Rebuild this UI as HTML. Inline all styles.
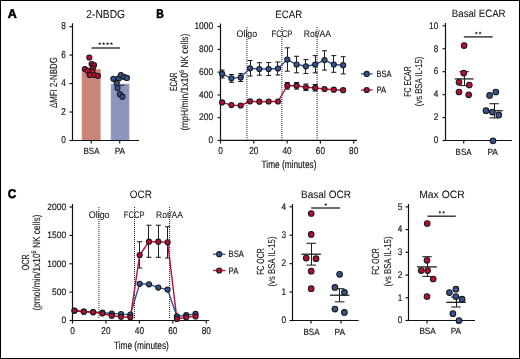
<!DOCTYPE html>
<html><head><meta charset="utf-8"><style>
html,body{margin:0;padding:0;background:#fff;}
svg{display:block;font-family:"Liberation Sans", sans-serif;will-change:transform;text-rendering:geometricPrecision;}
text{stroke:#151515;stroke-width:0.16px;fill:#151515;}
text.t{stroke-width:0.05px;fill:#111;stroke:#111;}
text.r{stroke-width:0.1px;}
text.L{stroke-width:0.55px;fill:#000;stroke:#000;}
</style></head><body>
<svg width="520" height="359" viewBox="0 0 520 359">
<rect x="0.5" y="0.5" width="519" height="358" fill="#fff" stroke="#000" stroke-width="1"/>
<text class="L" x="7.8" y="17.6" font-size="12.6" text-anchor="start" font-weight="bold" fill="#000" textLength="9.0" lengthAdjust="spacingAndGlyphs">A</text>
<text class="t" x="86.3" y="18.0" font-size="11.6" text-anchor="start" font-weight="normal" fill="#222" textLength="38.8" lengthAdjust="spacingAndGlyphs">2-NBDG</text>
<rect x="82.0" y="69.4" width="18.3" height="71.1" fill="#c98577" stroke="#d99a8c" stroke-width="0.6"/>
<rect x="111.0" y="84.0" width="18.1" height="56.5" fill="#8c95bf" stroke="#a2aad0" stroke-width="0.6"/>
<line x1="72.5" y1="23.3" x2="72.5" y2="141.1" stroke="#111" stroke-width="1.2"/>
<line x1="69.5" y1="140.5" x2="72.5" y2="140.5" stroke="#111" stroke-width="1.15"/>
<text x="65.9" y="143.3" font-size="9.9" text-anchor="end" font-weight="normal" fill="#222" textLength="4.6" lengthAdjust="spacingAndGlyphs">0</text>
<line x1="69.5" y1="112.03999999999999" x2="72.5" y2="112.03999999999999" stroke="#111" stroke-width="1.15"/>
<text x="65.9" y="114.83999999999999" font-size="9.9" text-anchor="end" font-weight="normal" fill="#222" textLength="4.6" lengthAdjust="spacingAndGlyphs">2</text>
<line x1="69.5" y1="83.58" x2="72.5" y2="83.58" stroke="#111" stroke-width="1.15"/>
<text x="65.9" y="86.38" font-size="9.9" text-anchor="end" font-weight="normal" fill="#222" textLength="4.6" lengthAdjust="spacingAndGlyphs">4</text>
<line x1="69.5" y1="55.120000000000005" x2="72.5" y2="55.120000000000005" stroke="#111" stroke-width="1.15"/>
<text x="65.9" y="57.92" font-size="9.9" text-anchor="end" font-weight="normal" fill="#222" textLength="4.6" lengthAdjust="spacingAndGlyphs">6</text>
<line x1="69.5" y1="26.659999999999997" x2="72.5" y2="26.659999999999997" stroke="#111" stroke-width="1.15"/>
<text x="65.9" y="29.459999999999997" font-size="9.9" text-anchor="end" font-weight="normal" fill="#222" textLength="4.6" lengthAdjust="spacingAndGlyphs">8</text>
<line x1="71.9" y1="140.5" x2="139.0" y2="140.5" stroke="#111" stroke-width="1.2"/>
<line x1="91.2" y1="140.5" x2="91.2" y2="143.5" stroke="#111" stroke-width="1.15"/>
<line x1="119.7" y1="140.5" x2="119.7" y2="143.5" stroke="#111" stroke-width="1.15"/>
<text x="91.5" y="154.1" font-size="9.1" text-anchor="middle" font-weight="normal" fill="#222" textLength="16.0" lengthAdjust="spacingAndGlyphs">BSA</text>
<text x="119.9" y="154.1" font-size="9.1" text-anchor="middle" font-weight="normal" fill="#222" textLength="10.5" lengthAdjust="spacingAndGlyphs">PA</text>
<text class="r" transform="translate(56.6,82.6) rotate(-90)" x="0" y="0" font-size="10.3" text-anchor="middle" fill="#222" textLength="51.0" lengthAdjust="spacingAndGlyphs">ΔMFI 2-NBDG</text>
<line x1="91.5" y1="48.0" x2="120.0" y2="48.0" stroke="#1e1e1e" stroke-width="1.3"/>
<line x1="119.2" y1="85.3" x2="124.6" y2="85.3" stroke="#222" stroke-width="1.0"/>
<line x1="88.5" y1="70.3" x2="94.5" y2="70.3" stroke="#222" stroke-width="1.0"/>
<polygon points="99.75,42.00 100.20,43.08 101.37,43.17 100.48,43.94 100.75,45.08 99.75,44.47 98.75,45.08 99.02,43.94 98.13,43.17 99.30,43.08" fill="#222"/>
<polygon points="103.65,42.00 104.10,43.08 105.27,43.17 104.38,43.94 104.65,45.08 103.65,44.47 102.65,45.08 102.92,43.94 102.03,43.17 103.20,43.08" fill="#222"/>
<polygon points="107.55,42.00 108.00,43.08 109.17,43.17 108.28,43.94 108.55,45.08 107.55,44.47 106.55,45.08 106.82,43.94 105.93,43.17 107.10,43.08" fill="#222"/>
<polygon points="111.45,42.00 111.90,43.08 113.07,43.17 112.18,43.94 112.45,45.08 111.45,44.47 110.45,45.08 110.72,43.94 109.83,43.17 111.00,43.08" fill="#222"/>
<circle cx="89.3" cy="57.5" r="2.55" fill="#b90a36" stroke="#1b1b1b" stroke-width="1.1"/>
<circle cx="91.6" cy="64.1" r="2.55" fill="#b90a36" stroke="#1b1b1b" stroke-width="1.1"/>
<circle cx="94" cy="65.2" r="2.55" fill="#b90a36" stroke="#1b1b1b" stroke-width="1.1"/>
<circle cx="92.8" cy="68.4" r="2.55" fill="#b90a36" stroke="#1b1b1b" stroke-width="1.1"/>
<circle cx="84.9" cy="69" r="2.55" fill="#b90a36" stroke="#1b1b1b" stroke-width="1.1"/>
<circle cx="87.7" cy="70.7" r="2.55" fill="#b90a36" stroke="#1b1b1b" stroke-width="1.1"/>
<circle cx="92.4" cy="71.5" r="2.55" fill="#b90a36" stroke="#1b1b1b" stroke-width="1.1"/>
<circle cx="89.7" cy="75" r="2.55" fill="#b90a36" stroke="#1b1b1b" stroke-width="1.1"/>
<circle cx="94.4" cy="75" r="2.55" fill="#b90a36" stroke="#1b1b1b" stroke-width="1.1"/>
<circle cx="97.9" cy="75.8" r="2.55" fill="#b90a36" stroke="#1b1b1b" stroke-width="1.1"/>
<circle cx="113.4" cy="78.8" r="2.55" fill="#345593" stroke="#1b1b1b" stroke-width="1.1"/>
<circle cx="118.8" cy="78.4" r="2.55" fill="#345593" stroke="#1b1b1b" stroke-width="1.1"/>
<circle cx="120.9" cy="75" r="2.55" fill="#345593" stroke="#1b1b1b" stroke-width="1.1"/>
<circle cx="124.2" cy="77.1" r="2.55" fill="#345593" stroke="#1b1b1b" stroke-width="1.1"/>
<circle cx="126.9" cy="77.9" r="2.55" fill="#345593" stroke="#1b1b1b" stroke-width="1.1"/>
<circle cx="116.7" cy="83.2" r="2.55" fill="#345593" stroke="#1b1b1b" stroke-width="1.1"/>
<circle cx="117.5" cy="88" r="2.55" fill="#345593" stroke="#1b1b1b" stroke-width="1.1"/>
<circle cx="119.9" cy="94.2" r="2.55" fill="#345593" stroke="#1b1b1b" stroke-width="1.1"/>
<circle cx="122.4" cy="96.7" r="2.55" fill="#345593" stroke="#1b1b1b" stroke-width="1.1"/>
<text class="L" x="156.3" y="17.6" font-size="12.6" text-anchor="start" font-weight="bold" fill="#000" textLength="7.6" lengthAdjust="spacingAndGlyphs">B</text>
<text class="t" x="275.3" y="18.0" font-size="10.8" text-anchor="start" font-weight="normal" fill="#222" textLength="26.8" lengthAdjust="spacingAndGlyphs">ECAR</text>
<line x1="246.9" y1="27.0" x2="246.9" y2="139.5" stroke="#222" stroke-width="1.0" stroke-dasharray="1 1"/>
<line x1="281.9" y1="27.0" x2="281.9" y2="139.5" stroke="#222" stroke-width="1.0" stroke-dasharray="1 1"/>
<line x1="317.1" y1="27.0" x2="317.1" y2="139.5" stroke="#222" stroke-width="1.0" stroke-dasharray="1 1"/>
<text class="t" x="236.6" y="37.2" font-size="9.6" text-anchor="start" font-weight="normal" fill="#222" textLength="20.6" lengthAdjust="spacingAndGlyphs">Oligo</text>
<text class="t" x="271.5" y="37.2" font-size="9.6" text-anchor="start" font-weight="normal" fill="#222" textLength="21.0" lengthAdjust="spacingAndGlyphs">FCCP</text>
<text class="t" x="303.8" y="37.2" font-size="9.6" text-anchor="start" font-weight="normal" fill="#222" textLength="27.3" lengthAdjust="spacingAndGlyphs">Rot/AA</text>
<line x1="220.5" y1="23.5" x2="220.5" y2="141.04999999999998" stroke="#111" stroke-width="1.2"/>
<line x1="217.5" y1="140.45" x2="220.5" y2="140.45" stroke="#111" stroke-width="1.15"/>
<text x="213.2" y="143.25" font-size="9.6" text-anchor="end" font-weight="normal" fill="#222" textLength="4.7" lengthAdjust="spacingAndGlyphs">0</text>
<line x1="217.5" y1="117.67999999999999" x2="220.5" y2="117.67999999999999" stroke="#111" stroke-width="1.15"/>
<text x="213.2" y="120.47999999999999" font-size="9.6" text-anchor="end" font-weight="normal" fill="#222" textLength="14.100000000000001" lengthAdjust="spacingAndGlyphs">200</text>
<line x1="217.5" y1="94.91" x2="220.5" y2="94.91" stroke="#111" stroke-width="1.15"/>
<text x="213.2" y="97.71" font-size="9.6" text-anchor="end" font-weight="normal" fill="#222" textLength="14.100000000000001" lengthAdjust="spacingAndGlyphs">400</text>
<line x1="217.5" y1="72.13999999999999" x2="220.5" y2="72.13999999999999" stroke="#111" stroke-width="1.15"/>
<text x="213.2" y="74.93999999999998" font-size="9.6" text-anchor="end" font-weight="normal" fill="#222" textLength="14.100000000000001" lengthAdjust="spacingAndGlyphs">600</text>
<line x1="217.5" y1="49.36999999999999" x2="220.5" y2="49.36999999999999" stroke="#111" stroke-width="1.15"/>
<text x="213.2" y="52.16999999999999" font-size="9.6" text-anchor="end" font-weight="normal" fill="#222" textLength="14.100000000000001" lengthAdjust="spacingAndGlyphs">800</text>
<line x1="217.5" y1="26.599999999999994" x2="220.5" y2="26.599999999999994" stroke="#111" stroke-width="1.15"/>
<text x="213.2" y="29.399999999999995" font-size="9.6" text-anchor="end" font-weight="normal" fill="#222" textLength="18.8" lengthAdjust="spacingAndGlyphs">1000</text>
<line x1="219.9" y1="140.45" x2="357.0" y2="140.45" stroke="#111" stroke-width="1.2"/>
<line x1="220.5" y1="140.45" x2="220.5" y2="143.45" stroke="#111" stroke-width="1.15"/>
<line x1="253.8" y1="140.45" x2="253.8" y2="143.45" stroke="#111" stroke-width="1.15"/>
<line x1="287.1" y1="140.45" x2="287.1" y2="143.45" stroke="#111" stroke-width="1.15"/>
<line x1="320.4" y1="140.45" x2="320.4" y2="143.45" stroke="#111" stroke-width="1.15"/>
<line x1="353.7" y1="140.45" x2="353.7" y2="143.45" stroke="#111" stroke-width="1.15"/>
<text x="220.5" y="154.3" font-size="9.9" text-anchor="middle" font-weight="normal" fill="#222" textLength="4.6" lengthAdjust="spacingAndGlyphs">0</text>
<text x="253.8" y="154.3" font-size="9.9" text-anchor="middle" font-weight="normal" fill="#222" textLength="9.2" lengthAdjust="spacingAndGlyphs">20</text>
<text x="287.1" y="154.3" font-size="9.9" text-anchor="middle" font-weight="normal" fill="#222" textLength="9.2" lengthAdjust="spacingAndGlyphs">40</text>
<text x="320.4" y="154.3" font-size="9.9" text-anchor="middle" font-weight="normal" fill="#222" textLength="9.2" lengthAdjust="spacingAndGlyphs">60</text>
<text x="353.7" y="154.3" font-size="9.9" text-anchor="middle" font-weight="normal" fill="#222" textLength="9.2" lengthAdjust="spacingAndGlyphs">80</text>
<text x="261.6" y="168.1" font-size="10.6" text-anchor="start" font-weight="normal" fill="#222" textLength="54.8" lengthAdjust="spacingAndGlyphs">Time (minutes)</text>
<text class="r" transform="translate(176.7,81.7) rotate(-90)" x="0" y="0" font-size="10.3" text-anchor="middle" fill="#222" textLength="18.4" lengthAdjust="spacingAndGlyphs">ECAR</text>
<text class="r" transform="translate(188.3,82.1) rotate(-90)" x="0" y="0" font-size="10.4" text-anchor="middle" fill="#222" textLength="97.0" lengthAdjust="spacingAndGlyphs">(mpH/min/1x10<tspan dy='-4' font-size='6.8'>6</tspan><tspan dy='4'> NK cells)</tspan></text>
<line x1="222.5" y1="70" x2="222.5" y2="78" stroke="#1e1e1e" stroke-width="1.05"/>
<line x1="219.6" y1="70" x2="224.6" y2="70" stroke="#1e1e1e" stroke-width="1.05"/>
<line x1="219.6" y1="78" x2="224.6" y2="78" stroke="#1e1e1e" stroke-width="1.05"/>
<line x1="231.5" y1="74.5" x2="231.5" y2="82.3" stroke="#1e1e1e" stroke-width="1.05"/>
<line x1="228.91" y1="74.5" x2="233.91" y2="74.5" stroke="#1e1e1e" stroke-width="1.05"/>
<line x1="228.91" y1="82.3" x2="233.91" y2="82.3" stroke="#1e1e1e" stroke-width="1.05"/>
<line x1="240.5" y1="73.5" x2="240.5" y2="81.5" stroke="#1e1e1e" stroke-width="1.05"/>
<line x1="238.22" y1="73.5" x2="243.22" y2="73.5" stroke="#1e1e1e" stroke-width="1.05"/>
<line x1="238.22" y1="81.5" x2="243.22" y2="81.5" stroke="#1e1e1e" stroke-width="1.05"/>
<line x1="250.5" y1="60.5" x2="250.5" y2="76" stroke="#1e1e1e" stroke-width="1.05"/>
<line x1="247.53" y1="60.5" x2="252.53" y2="60.5" stroke="#1e1e1e" stroke-width="1.05"/>
<line x1="247.53" y1="76" x2="252.53" y2="76" stroke="#1e1e1e" stroke-width="1.05"/>
<line x1="259.5" y1="62.7" x2="259.5" y2="75.2" stroke="#1e1e1e" stroke-width="1.05"/>
<line x1="256.84" y1="62.7" x2="261.84" y2="62.7" stroke="#1e1e1e" stroke-width="1.05"/>
<line x1="256.84" y1="75.2" x2="261.84" y2="75.2" stroke="#1e1e1e" stroke-width="1.05"/>
<line x1="268.5" y1="62.5" x2="268.5" y2="75.5" stroke="#1e1e1e" stroke-width="1.05"/>
<line x1="266.15" y1="62.5" x2="271.15" y2="62.5" stroke="#1e1e1e" stroke-width="1.05"/>
<line x1="266.15" y1="75.5" x2="271.15" y2="75.5" stroke="#1e1e1e" stroke-width="1.05"/>
<line x1="277.5" y1="62" x2="277.5" y2="75" stroke="#1e1e1e" stroke-width="1.05"/>
<line x1="275.46" y1="62" x2="280.46" y2="62" stroke="#1e1e1e" stroke-width="1.05"/>
<line x1="275.46" y1="75" x2="280.46" y2="75" stroke="#1e1e1e" stroke-width="1.05"/>
<line x1="287.5" y1="47.8" x2="287.5" y2="71.2" stroke="#1e1e1e" stroke-width="1.05"/>
<line x1="284.77" y1="47.8" x2="289.77" y2="47.8" stroke="#1e1e1e" stroke-width="1.05"/>
<line x1="284.77" y1="71.2" x2="289.77" y2="71.2" stroke="#1e1e1e" stroke-width="1.05"/>
<line x1="296.5" y1="56.3" x2="296.5" y2="72.8" stroke="#1e1e1e" stroke-width="1.05"/>
<line x1="294.08" y1="56.3" x2="299.08" y2="56.3" stroke="#1e1e1e" stroke-width="1.05"/>
<line x1="294.08" y1="72.8" x2="299.08" y2="72.8" stroke="#1e1e1e" stroke-width="1.05"/>
<line x1="305.5" y1="59.6" x2="305.5" y2="73.5" stroke="#1e1e1e" stroke-width="1.05"/>
<line x1="303.39" y1="59.6" x2="308.39" y2="59.6" stroke="#1e1e1e" stroke-width="1.05"/>
<line x1="303.39" y1="73.5" x2="308.39" y2="73.5" stroke="#1e1e1e" stroke-width="1.05"/>
<line x1="315.5" y1="55.6" x2="315.5" y2="72.8" stroke="#1e1e1e" stroke-width="1.05"/>
<line x1="312.7" y1="55.6" x2="317.7" y2="55.6" stroke="#1e1e1e" stroke-width="1.05"/>
<line x1="312.7" y1="72.8" x2="317.7" y2="72.8" stroke="#1e1e1e" stroke-width="1.05"/>
<line x1="324.5" y1="50.7" x2="324.5" y2="70.1" stroke="#1e1e1e" stroke-width="1.05"/>
<line x1="322.01" y1="50.7" x2="327.01" y2="50.7" stroke="#1e1e1e" stroke-width="1.05"/>
<line x1="322.01" y1="70.1" x2="327.01" y2="70.1" stroke="#1e1e1e" stroke-width="1.05"/>
<line x1="333.5" y1="55.6" x2="333.5" y2="72.3" stroke="#1e1e1e" stroke-width="1.05"/>
<line x1="331.32" y1="55.6" x2="336.32" y2="55.6" stroke="#1e1e1e" stroke-width="1.05"/>
<line x1="331.32" y1="72.3" x2="336.32" y2="72.3" stroke="#1e1e1e" stroke-width="1.05"/>
<line x1="343.5" y1="56.7" x2="343.5" y2="73.9" stroke="#1e1e1e" stroke-width="1.05"/>
<line x1="340.63" y1="56.7" x2="345.63" y2="56.7" stroke="#1e1e1e" stroke-width="1.05"/>
<line x1="340.63" y1="73.9" x2="345.63" y2="73.9" stroke="#1e1e1e" stroke-width="1.05"/>
<line x1="287.5" y1="82.5" x2="287.5" y2="89.1" stroke="#1e1e1e" stroke-width="1.05"/>
<line x1="284.77" y1="82.5" x2="289.77" y2="82.5" stroke="#1e1e1e" stroke-width="1.05"/>
<line x1="284.77" y1="89.1" x2="289.77" y2="89.1" stroke="#1e1e1e" stroke-width="1.05"/>
<line x1="296.5" y1="82.5" x2="296.5" y2="89.1" stroke="#1e1e1e" stroke-width="1.05"/>
<line x1="294.08" y1="82.5" x2="299.08" y2="82.5" stroke="#1e1e1e" stroke-width="1.05"/>
<line x1="294.08" y1="89.1" x2="299.08" y2="89.1" stroke="#1e1e1e" stroke-width="1.05"/>
<line x1="305.5" y1="84" x2="305.5" y2="90.5" stroke="#1e1e1e" stroke-width="1.05"/>
<line x1="303.39" y1="84" x2="308.39" y2="84" stroke="#1e1e1e" stroke-width="1.05"/>
<line x1="303.39" y1="90.5" x2="308.39" y2="90.5" stroke="#1e1e1e" stroke-width="1.05"/>
<line x1="315.5" y1="84.5" x2="315.5" y2="91" stroke="#1e1e1e" stroke-width="1.05"/>
<line x1="312.7" y1="84.5" x2="317.7" y2="84.5" stroke="#1e1e1e" stroke-width="1.05"/>
<line x1="312.7" y1="91" x2="317.7" y2="91" stroke="#1e1e1e" stroke-width="1.05"/>
<polyline points="222.1,73.9 231.4,78.3 240.7,77.4 250.0,68.3 259.3,69 268.6,69 278.0,68.5 287.3,59.6 296.6,64.5 305.9,66.3 315.2,64.5 324.5,60.1 333.8,64.5 343.1,65.2" fill="none" stroke="#325394" stroke-width="1.4"/>
<polyline points="222.1,102.4 231.4,105.1 240.7,105.5 250.0,101.3 259.3,101.7 268.6,101.5 278.0,101.5 287.3,85.7 296.6,85.7 305.9,87.3 315.2,87.9 324.5,89 333.8,89.7 343.1,90.2" fill="none" stroke="#b5103a" stroke-width="1.4"/>
<circle cx="222.1" cy="73.9" r="2.55" fill="#345593" stroke="#1b1b1b" stroke-width="1.1"/>
<circle cx="231.41" cy="78.3" r="2.55" fill="#345593" stroke="#1b1b1b" stroke-width="1.1"/>
<circle cx="240.72" cy="77.4" r="2.55" fill="#345593" stroke="#1b1b1b" stroke-width="1.1"/>
<circle cx="250.03" cy="68.3" r="2.55" fill="#345593" stroke="#1b1b1b" stroke-width="1.1"/>
<circle cx="259.34" cy="69" r="2.55" fill="#345593" stroke="#1b1b1b" stroke-width="1.1"/>
<circle cx="268.65" cy="69" r="2.55" fill="#345593" stroke="#1b1b1b" stroke-width="1.1"/>
<circle cx="277.96" cy="68.5" r="2.55" fill="#345593" stroke="#1b1b1b" stroke-width="1.1"/>
<circle cx="287.27" cy="59.6" r="2.55" fill="#345593" stroke="#1b1b1b" stroke-width="1.1"/>
<circle cx="296.58" cy="64.5" r="2.55" fill="#345593" stroke="#1b1b1b" stroke-width="1.1"/>
<circle cx="305.89" cy="66.3" r="2.55" fill="#345593" stroke="#1b1b1b" stroke-width="1.1"/>
<circle cx="315.2" cy="64.5" r="2.55" fill="#345593" stroke="#1b1b1b" stroke-width="1.1"/>
<circle cx="324.51" cy="60.1" r="2.55" fill="#345593" stroke="#1b1b1b" stroke-width="1.1"/>
<circle cx="333.82" cy="64.5" r="2.55" fill="#345593" stroke="#1b1b1b" stroke-width="1.1"/>
<circle cx="343.13" cy="65.2" r="2.55" fill="#345593" stroke="#1b1b1b" stroke-width="1.1"/>
<circle cx="222.1" cy="102.4" r="2.55" fill="#b90a36" stroke="#1b1b1b" stroke-width="1.1"/>
<circle cx="231.41" cy="105.1" r="2.55" fill="#b90a36" stroke="#1b1b1b" stroke-width="1.1"/>
<circle cx="240.72" cy="105.5" r="2.55" fill="#b90a36" stroke="#1b1b1b" stroke-width="1.1"/>
<circle cx="250.03" cy="101.3" r="2.55" fill="#b90a36" stroke="#1b1b1b" stroke-width="1.1"/>
<circle cx="259.34" cy="101.7" r="2.55" fill="#b90a36" stroke="#1b1b1b" stroke-width="1.1"/>
<circle cx="268.65" cy="101.5" r="2.55" fill="#b90a36" stroke="#1b1b1b" stroke-width="1.1"/>
<circle cx="277.96" cy="101.5" r="2.55" fill="#b90a36" stroke="#1b1b1b" stroke-width="1.1"/>
<circle cx="287.27" cy="85.7" r="2.55" fill="#b90a36" stroke="#1b1b1b" stroke-width="1.1"/>
<circle cx="296.58" cy="85.7" r="2.55" fill="#b90a36" stroke="#1b1b1b" stroke-width="1.1"/>
<circle cx="305.89" cy="87.3" r="2.55" fill="#b90a36" stroke="#1b1b1b" stroke-width="1.1"/>
<circle cx="315.2" cy="87.9" r="2.55" fill="#b90a36" stroke="#1b1b1b" stroke-width="1.1"/>
<circle cx="324.51" cy="89" r="2.55" fill="#b90a36" stroke="#1b1b1b" stroke-width="1.1"/>
<circle cx="333.82" cy="89.7" r="2.55" fill="#b90a36" stroke="#1b1b1b" stroke-width="1.1"/>
<circle cx="343.13" cy="90.2" r="2.55" fill="#b90a36" stroke="#1b1b1b" stroke-width="1.1"/>
<line x1="360.9" y1="73.9" x2="372.6" y2="73.9" stroke="#325394" stroke-width="1.3"/>
<circle cx="366.7" cy="73.9" r="2.55" fill="#345593" stroke="#1b1b1b" stroke-width="1.1"/>
<text x="376.6" y="77.0" font-size="9.2" text-anchor="start" font-weight="normal" fill="#222" textLength="15.0" lengthAdjust="spacingAndGlyphs">BSA</text>
<line x1="360.9" y1="90.0" x2="372.6" y2="90.0" stroke="#b5103a" stroke-width="1.3"/>
<circle cx="366.7" cy="90.0" r="2.55" fill="#b90a36" stroke="#1b1b1b" stroke-width="1.1"/>
<text x="376.6" y="93.1" font-size="9.2" text-anchor="start" font-weight="normal" fill="#222" textLength="9.6" lengthAdjust="spacingAndGlyphs">PA</text>
<text class="t" x="451.8" y="16.7" font-size="10.6" text-anchor="start" font-weight="normal" fill="#222" textLength="53.8" lengthAdjust="spacingAndGlyphs">Basal ECAR</text>
<line x1="445.5" y1="23.0" x2="445.5" y2="141.1" stroke="#111" stroke-width="1.2"/>
<line x1="442.5" y1="140.5" x2="445.5" y2="140.5" stroke="#111" stroke-width="1.15"/>
<text x="438.3" y="143.3" font-size="9.6" text-anchor="end" font-weight="normal" fill="#222" textLength="4.6" lengthAdjust="spacingAndGlyphs">0</text>
<line x1="442.5" y1="117.56" x2="445.5" y2="117.56" stroke="#111" stroke-width="1.15"/>
<text x="438.3" y="120.36" font-size="9.6" text-anchor="end" font-weight="normal" fill="#222" textLength="4.6" lengthAdjust="spacingAndGlyphs">2</text>
<line x1="442.5" y1="94.62" x2="445.5" y2="94.62" stroke="#111" stroke-width="1.15"/>
<text x="438.3" y="97.42" font-size="9.6" text-anchor="end" font-weight="normal" fill="#222" textLength="4.6" lengthAdjust="spacingAndGlyphs">4</text>
<line x1="442.5" y1="71.67999999999999" x2="445.5" y2="71.67999999999999" stroke="#111" stroke-width="1.15"/>
<text x="438.3" y="74.47999999999999" font-size="9.6" text-anchor="end" font-weight="normal" fill="#222" textLength="4.6" lengthAdjust="spacingAndGlyphs">6</text>
<line x1="442.5" y1="48.739999999999995" x2="445.5" y2="48.739999999999995" stroke="#111" stroke-width="1.15"/>
<text x="438.3" y="51.53999999999999" font-size="9.6" text-anchor="end" font-weight="normal" fill="#222" textLength="4.6" lengthAdjust="spacingAndGlyphs">8</text>
<line x1="442.5" y1="25.799999999999997" x2="445.5" y2="25.799999999999997" stroke="#111" stroke-width="1.15"/>
<text x="438.3" y="28.599999999999998" font-size="9.6" text-anchor="end" font-weight="normal" fill="#222" textLength="9.2" lengthAdjust="spacingAndGlyphs">10</text>
<line x1="444.9" y1="140.5" x2="512.0" y2="140.5" stroke="#111" stroke-width="1.2"/>
<line x1="463.7" y1="140.5" x2="463.7" y2="143.5" stroke="#111" stroke-width="1.15"/>
<line x1="493.0" y1="140.5" x2="493.0" y2="143.5" stroke="#111" stroke-width="1.15"/>
<text x="463.6" y="154.8" font-size="9.1" text-anchor="middle" font-weight="normal" fill="#222" textLength="16.0" lengthAdjust="spacingAndGlyphs">BSA</text>
<text x="492.7" y="154.8" font-size="9.1" text-anchor="middle" font-weight="normal" fill="#222" textLength="10.6" lengthAdjust="spacingAndGlyphs">PA</text>
<text class="r" transform="translate(410.8,81.5) rotate(-90)" x="0" y="0" font-size="10.0" text-anchor="middle" fill="#222" textLength="30.5" lengthAdjust="spacingAndGlyphs">FC ECAR</text>
<text class="r" transform="translate(422.0,81.4) rotate(-90)" x="0" y="0" font-size="10.0" text-anchor="middle" fill="#222" textLength="49.5" lengthAdjust="spacingAndGlyphs">(vs BSA IL-15)</text>
<line x1="463.8" y1="36.9" x2="492.6" y2="36.9" stroke="#1e1e1e" stroke-width="1.3"/>
<polygon points="476.35,31.30 476.80,32.38 477.97,32.47 477.08,33.24 477.35,34.38 476.35,33.77 475.35,34.38 475.62,33.24 474.73,32.47 475.90,32.38" fill="#222"/>
<polygon points="480.05,31.30 480.50,32.38 481.67,32.47 480.78,33.24 481.05,34.38 480.05,33.77 479.05,34.38 479.32,33.24 478.43,32.47 479.60,32.38" fill="#222"/>
<line x1="464.5" y1="71.7" x2="464.5" y2="85.6" stroke="#1e1e1e" stroke-width="1.05"/>
<line x1="459.45" y1="71.7" x2="468.95" y2="71.7" stroke="#1e1e1e" stroke-width="1.05"/>
<line x1="459.45" y1="85.6" x2="468.95" y2="85.6" stroke="#1e1e1e" stroke-width="1.05"/>
<line x1="454.8" y1="78.9" x2="473.5" y2="78.9" stroke="#222" stroke-width="1.3"/>
<circle cx="464.1" cy="45.6" r="2.8" fill="#b90a36" stroke="#1b1b1b" stroke-width="1.1"/>
<circle cx="463.7" cy="73.1" r="2.8" fill="#b90a36" stroke="#1b1b1b" stroke-width="1.1"/>
<circle cx="459" cy="82.3" r="2.8" fill="#b90a36" stroke="#1b1b1b" stroke-width="1.1"/>
<circle cx="469.3" cy="85" r="2.8" fill="#b90a36" stroke="#1b1b1b" stroke-width="1.1"/>
<circle cx="459" cy="92" r="2.8" fill="#b90a36" stroke="#1b1b1b" stroke-width="1.1"/>
<circle cx="468.7" cy="94.8" r="2.8" fill="#b90a36" stroke="#1b1b1b" stroke-width="1.1"/>
<line x1="494.5" y1="103.7" x2="494.5" y2="117.9" stroke="#1e1e1e" stroke-width="1.05"/>
<line x1="489.35" y1="103.7" x2="498.85" y2="103.7" stroke="#1e1e1e" stroke-width="1.05"/>
<line x1="489.35" y1="117.9" x2="498.85" y2="117.9" stroke="#1e1e1e" stroke-width="1.05"/>
<line x1="485.5" y1="110.7" x2="502.7" y2="110.7" stroke="#222" stroke-width="1.3"/>
<circle cx="489.6" cy="95.4" r="2.8" fill="#345593" stroke="#1b1b1b" stroke-width="1.1"/>
<circle cx="495.8" cy="92" r="2.8" fill="#345593" stroke="#1b1b1b" stroke-width="1.1"/>
<circle cx="486" cy="110.7" r="2.8" fill="#345593" stroke="#1b1b1b" stroke-width="1.1"/>
<circle cx="492.4" cy="112.1" r="2.8" fill="#345593" stroke="#1b1b1b" stroke-width="1.1"/>
<circle cx="498.8" cy="114.9" r="2.8" fill="#345593" stroke="#1b1b1b" stroke-width="1.1"/>
<circle cx="493" cy="140.8" r="2.8" fill="#345593" stroke="#1b1b1b" stroke-width="1.1"/>
<text class="L" x="7.7" y="198.0" font-size="12.6" text-anchor="start" font-weight="bold" fill="#000" textLength="8.5" lengthAdjust="spacingAndGlyphs">C</text>
<text class="t" x="129.8" y="198.2" font-size="10.8" text-anchor="start" font-weight="normal" fill="#222" textLength="22.0" lengthAdjust="spacingAndGlyphs">OCR</text>
<line x1="98.9" y1="207.0" x2="98.9" y2="319.0" stroke="#222" stroke-width="1.0" stroke-dasharray="1 1"/>
<line x1="134.5" y1="207.0" x2="134.5" y2="319.0" stroke="#222" stroke-width="1.0" stroke-dasharray="1 1"/>
<line x1="169.6" y1="207.0" x2="169.6" y2="319.0" stroke="#222" stroke-width="1.0" stroke-dasharray="1 1"/>
<text class="t" x="88.7" y="217.8" font-size="9.6" text-anchor="start" font-weight="normal" fill="#222" textLength="20.9" lengthAdjust="spacingAndGlyphs">Oligo</text>
<text class="t" x="123.8" y="217.8" font-size="9.6" text-anchor="start" font-weight="normal" fill="#222" textLength="20.7" lengthAdjust="spacingAndGlyphs">FCCP</text>
<text class="t" x="156.0" y="217.8" font-size="9.6" text-anchor="start" font-weight="normal" fill="#222" textLength="27.0" lengthAdjust="spacingAndGlyphs">Rot/AA</text>
<line x1="72.5" y1="204.0" x2="72.5" y2="321.1" stroke="#111" stroke-width="1.2"/>
<line x1="69.5" y1="320.5" x2="72.5" y2="320.5" stroke="#111" stroke-width="1.15"/>
<text x="66.10000000000001" y="323.3" font-size="9.3" text-anchor="end" font-weight="normal" fill="#222" textLength="4.7" lengthAdjust="spacingAndGlyphs">0</text>
<line x1="69.5" y1="292.13" x2="72.5" y2="292.13" stroke="#111" stroke-width="1.15"/>
<text x="66.10000000000001" y="294.93" font-size="9.3" text-anchor="end" font-weight="normal" fill="#222" textLength="14.100000000000001" lengthAdjust="spacingAndGlyphs">500</text>
<line x1="69.5" y1="263.76" x2="72.5" y2="263.76" stroke="#111" stroke-width="1.15"/>
<text x="66.10000000000001" y="266.56" font-size="9.3" text-anchor="end" font-weight="normal" fill="#222" textLength="18.8" lengthAdjust="spacingAndGlyphs">1000</text>
<line x1="69.5" y1="235.39" x2="72.5" y2="235.39" stroke="#111" stroke-width="1.15"/>
<text x="66.10000000000001" y="238.19" font-size="9.3" text-anchor="end" font-weight="normal" fill="#222" textLength="18.8" lengthAdjust="spacingAndGlyphs">1500</text>
<line x1="69.5" y1="207.01999999999998" x2="72.5" y2="207.01999999999998" stroke="#111" stroke-width="1.15"/>
<text x="66.10000000000001" y="209.82" font-size="9.3" text-anchor="end" font-weight="normal" fill="#222" textLength="18.8" lengthAdjust="spacingAndGlyphs">2000</text>
<line x1="71.9" y1="320.5" x2="209.0" y2="320.5" stroke="#111" stroke-width="1.2"/>
<line x1="72.5" y1="320.5" x2="72.5" y2="323.5" stroke="#111" stroke-width="1.15"/>
<line x1="105.95" y1="320.5" x2="105.95" y2="323.5" stroke="#111" stroke-width="1.15"/>
<line x1="139.4" y1="320.5" x2="139.4" y2="323.5" stroke="#111" stroke-width="1.15"/>
<line x1="172.85000000000002" y1="320.5" x2="172.85000000000002" y2="323.5" stroke="#111" stroke-width="1.15"/>
<line x1="206.3" y1="320.5" x2="206.3" y2="323.5" stroke="#111" stroke-width="1.15"/>
<text x="72.5" y="334.3" font-size="9.9" text-anchor="middle" font-weight="normal" fill="#222" textLength="4.6" lengthAdjust="spacingAndGlyphs">0</text>
<text x="105.95" y="334.3" font-size="9.9" text-anchor="middle" font-weight="normal" fill="#222" textLength="9.2" lengthAdjust="spacingAndGlyphs">20</text>
<text x="139.4" y="334.3" font-size="9.9" text-anchor="middle" font-weight="normal" fill="#222" textLength="9.2" lengthAdjust="spacingAndGlyphs">40</text>
<text x="172.85000000000002" y="334.3" font-size="9.9" text-anchor="middle" font-weight="normal" fill="#222" textLength="9.2" lengthAdjust="spacingAndGlyphs">60</text>
<text x="206.3" y="334.3" font-size="9.9" text-anchor="middle" font-weight="normal" fill="#222" textLength="9.2" lengthAdjust="spacingAndGlyphs">80</text>
<text x="114.0" y="348.5" font-size="10.6" text-anchor="start" font-weight="normal" fill="#222" textLength="54.8" lengthAdjust="spacingAndGlyphs">Time (minutes)</text>
<text class="r" transform="translate(29.2,262.3) rotate(-90)" x="0" y="0" font-size="10.3" text-anchor="middle" fill="#222" textLength="16.0" lengthAdjust="spacingAndGlyphs">OCR</text>
<text class="r" transform="translate(39.7,262.6) rotate(-90)" x="0" y="0" font-size="10.4" text-anchor="middle" fill="#222" textLength="96.0" lengthAdjust="spacingAndGlyphs">(pmol/min/1x10<tspan dy='-4' font-size='6.8'>6</tspan><tspan dy='4'> NK cells)</tspan></text>
<line x1="139.5" y1="241.7" x2="139.5" y2="268" stroke="#1e1e1e" stroke-width="1.05"/>
<line x1="137.17000000000002" y1="241.7" x2="142.17000000000002" y2="241.7" stroke="#1e1e1e" stroke-width="1.05"/>
<line x1="137.17000000000002" y1="268" x2="142.17000000000002" y2="268" stroke="#1e1e1e" stroke-width="1.05"/>
<line x1="148.5" y1="225.2" x2="148.5" y2="257.3" stroke="#1e1e1e" stroke-width="1.05"/>
<line x1="146.48000000000002" y1="225.2" x2="151.48000000000002" y2="225.2" stroke="#1e1e1e" stroke-width="1.05"/>
<line x1="146.48000000000002" y1="257.3" x2="151.48000000000002" y2="257.3" stroke="#1e1e1e" stroke-width="1.05"/>
<line x1="158.5" y1="225.2" x2="158.5" y2="257.3" stroke="#1e1e1e" stroke-width="1.05"/>
<line x1="155.79000000000002" y1="225.2" x2="160.79000000000002" y2="225.2" stroke="#1e1e1e" stroke-width="1.05"/>
<line x1="155.79000000000002" y1="257.3" x2="160.79000000000002" y2="257.3" stroke="#1e1e1e" stroke-width="1.05"/>
<line x1="167.5" y1="226.7" x2="167.5" y2="258" stroke="#1e1e1e" stroke-width="1.05"/>
<line x1="165.10000000000002" y1="226.7" x2="170.10000000000002" y2="226.7" stroke="#1e1e1e" stroke-width="1.05"/>
<line x1="165.10000000000002" y1="258" x2="170.10000000000002" y2="258" stroke="#1e1e1e" stroke-width="1.05"/>
<polyline points="74.5,310.5 83.8,311.5 93.1,312 102.4,312.6 111.7,313.5 121.1,314.1 130.4,314.6 139.7,283.8 149.0,284.3 158.3,287.6 167.6,289.6 176.9,316.4 186.2,315.2 195.5,313.9" fill="none" stroke="#325394" stroke-width="1.4"/>
<polyline points="74.5,310.8 83.8,311.7 93.1,312.3 102.4,313.5 111.7,315.7 121.1,316.8 130.4,317.2 139.7,255 149.0,241.7 158.3,241.7 167.6,242.3 176.9,318.9 186.2,317.2 195.5,316.4" fill="none" stroke="#b5103a" stroke-width="1.4"/>
<circle cx="74.5" cy="310.5" r="2.55" fill="#345593" stroke="#1b1b1b" stroke-width="1.1"/>
<circle cx="83.81" cy="311.5" r="2.55" fill="#345593" stroke="#1b1b1b" stroke-width="1.1"/>
<circle cx="93.12" cy="312" r="2.55" fill="#345593" stroke="#1b1b1b" stroke-width="1.1"/>
<circle cx="102.43" cy="312.6" r="2.55" fill="#345593" stroke="#1b1b1b" stroke-width="1.1"/>
<circle cx="111.74000000000001" cy="313.5" r="2.55" fill="#345593" stroke="#1b1b1b" stroke-width="1.1"/>
<circle cx="121.05000000000001" cy="314.1" r="2.55" fill="#345593" stroke="#1b1b1b" stroke-width="1.1"/>
<circle cx="130.36" cy="314.6" r="2.55" fill="#345593" stroke="#1b1b1b" stroke-width="1.1"/>
<circle cx="139.67000000000002" cy="283.8" r="2.55" fill="#345593" stroke="#1b1b1b" stroke-width="1.1"/>
<circle cx="148.98000000000002" cy="284.3" r="2.55" fill="#345593" stroke="#1b1b1b" stroke-width="1.1"/>
<circle cx="158.29000000000002" cy="287.6" r="2.55" fill="#345593" stroke="#1b1b1b" stroke-width="1.1"/>
<circle cx="167.60000000000002" cy="289.6" r="2.55" fill="#345593" stroke="#1b1b1b" stroke-width="1.1"/>
<circle cx="176.91000000000003" cy="316.4" r="2.55" fill="#345593" stroke="#1b1b1b" stroke-width="1.1"/>
<circle cx="186.22" cy="315.2" r="2.55" fill="#345593" stroke="#1b1b1b" stroke-width="1.1"/>
<circle cx="195.53" cy="313.9" r="2.55" fill="#345593" stroke="#1b1b1b" stroke-width="1.1"/>
<circle cx="74.5" cy="310.8" r="2.55" fill="#b90a36" stroke="#1b1b1b" stroke-width="1.1"/>
<circle cx="83.81" cy="311.7" r="2.55" fill="#b90a36" stroke="#1b1b1b" stroke-width="1.1"/>
<circle cx="93.12" cy="312.3" r="2.55" fill="#b90a36" stroke="#1b1b1b" stroke-width="1.1"/>
<circle cx="102.43" cy="313.5" r="2.55" fill="#b90a36" stroke="#1b1b1b" stroke-width="1.1"/>
<circle cx="111.74000000000001" cy="315.7" r="2.55" fill="#b90a36" stroke="#1b1b1b" stroke-width="1.1"/>
<circle cx="121.05000000000001" cy="316.8" r="2.55" fill="#b90a36" stroke="#1b1b1b" stroke-width="1.1"/>
<circle cx="130.36" cy="317.2" r="2.55" fill="#b90a36" stroke="#1b1b1b" stroke-width="1.1"/>
<circle cx="139.67000000000002" cy="255" r="2.55" fill="#b90a36" stroke="#1b1b1b" stroke-width="1.1"/>
<circle cx="148.98000000000002" cy="241.7" r="2.55" fill="#b90a36" stroke="#1b1b1b" stroke-width="1.1"/>
<circle cx="158.29000000000002" cy="241.7" r="2.55" fill="#b90a36" stroke="#1b1b1b" stroke-width="1.1"/>
<circle cx="167.60000000000002" cy="242.3" r="2.55" fill="#b90a36" stroke="#1b1b1b" stroke-width="1.1"/>
<circle cx="176.91000000000003" cy="318.9" r="2.55" fill="#b90a36" stroke="#1b1b1b" stroke-width="1.1"/>
<circle cx="186.22" cy="317.2" r="2.55" fill="#b90a36" stroke="#1b1b1b" stroke-width="1.1"/>
<circle cx="195.53" cy="316.4" r="2.55" fill="#b90a36" stroke="#1b1b1b" stroke-width="1.1"/>
<line x1="213.0" y1="254.2" x2="225.4" y2="254.2" stroke="#325394" stroke-width="1.3"/>
<circle cx="219.2" cy="254.2" r="2.55" fill="#345593" stroke="#1b1b1b" stroke-width="1.1"/>
<text x="228.6" y="257.3" font-size="9.2" text-anchor="start" font-weight="normal" fill="#222" textLength="15.2" lengthAdjust="spacingAndGlyphs">BSA</text>
<line x1="213.0" y1="270.5" x2="225.4" y2="270.5" stroke="#b5103a" stroke-width="1.3"/>
<circle cx="219.2" cy="270.5" r="2.55" fill="#b90a36" stroke="#1b1b1b" stroke-width="1.1"/>
<text x="228.6" y="273.6" font-size="9.2" text-anchor="start" font-weight="normal" fill="#222" textLength="9.8" lengthAdjust="spacingAndGlyphs">PA</text>
<text class="t" x="301.0" y="198.4" font-size="10.6" text-anchor="start" font-weight="normal" fill="#222" textLength="50.0" lengthAdjust="spacingAndGlyphs">Basal OCR</text>
<line x1="292.5" y1="204.0" x2="292.5" y2="321.1" stroke="#111" stroke-width="1.2"/>
<line x1="289.5" y1="320.5" x2="292.5" y2="320.5" stroke="#111" stroke-width="1.15"/>
<text x="286.0" y="323.3" font-size="9.6" text-anchor="end" font-weight="normal" fill="#222" textLength="4.6" lengthAdjust="spacingAndGlyphs">0</text>
<line x1="289.5" y1="292.07" x2="292.5" y2="292.07" stroke="#111" stroke-width="1.15"/>
<text x="286.0" y="294.87" font-size="9.6" text-anchor="end" font-weight="normal" fill="#222" textLength="4.6" lengthAdjust="spacingAndGlyphs">1</text>
<line x1="289.5" y1="263.64" x2="292.5" y2="263.64" stroke="#111" stroke-width="1.15"/>
<text x="286.0" y="266.44" font-size="9.6" text-anchor="end" font-weight="normal" fill="#222" textLength="4.6" lengthAdjust="spacingAndGlyphs">2</text>
<line x1="289.5" y1="235.21" x2="292.5" y2="235.21" stroke="#111" stroke-width="1.15"/>
<text x="286.0" y="238.01000000000002" font-size="9.6" text-anchor="end" font-weight="normal" fill="#222" textLength="4.6" lengthAdjust="spacingAndGlyphs">3</text>
<line x1="289.5" y1="206.78" x2="292.5" y2="206.78" stroke="#111" stroke-width="1.15"/>
<text x="286.0" y="209.58" font-size="9.6" text-anchor="end" font-weight="normal" fill="#222" textLength="4.6" lengthAdjust="spacingAndGlyphs">4</text>
<line x1="291.9" y1="320.5" x2="358.6" y2="320.5" stroke="#111" stroke-width="1.2"/>
<line x1="311.0" y1="320.5" x2="311.0" y2="323.5" stroke="#111" stroke-width="1.15"/>
<line x1="341.0" y1="320.5" x2="341.0" y2="323.5" stroke="#111" stroke-width="1.15"/>
<text x="311.5" y="334.8" font-size="9.1" text-anchor="middle" font-weight="normal" fill="#222" textLength="16.2" lengthAdjust="spacingAndGlyphs">BSA</text>
<text x="339.9" y="334.8" font-size="9.1" text-anchor="middle" font-weight="normal" fill="#222" textLength="10.6" lengthAdjust="spacingAndGlyphs">PA</text>
<text class="r" transform="translate(263.9,261.6) rotate(-90)" x="0" y="0" font-size="10.3" text-anchor="middle" fill="#222" textLength="26.5" lengthAdjust="spacingAndGlyphs">FC OCR</text>
<text class="r" transform="translate(274.9,261.5) rotate(-90)" x="0" y="0" font-size="10.0" text-anchor="middle" fill="#222" textLength="50.0" lengthAdjust="spacingAndGlyphs">(vs BSA IL-15)</text>
<line x1="311.2" y1="208.0" x2="339.8" y2="208.0" stroke="#1e1e1e" stroke-width="1.3"/>
<polygon points="325.70,202.80 326.15,203.88 327.32,203.97 326.43,204.74 326.70,205.88 325.70,205.26 324.70,205.88 324.97,204.74 324.08,203.97 325.25,203.88" fill="#222"/>
<line x1="311.5" y1="243.3" x2="311.5" y2="265.1" stroke="#1e1e1e" stroke-width="1.05"/>
<line x1="306.45" y1="243.3" x2="315.95" y2="243.3" stroke="#1e1e1e" stroke-width="1.05"/>
<line x1="306.45" y1="265.1" x2="315.95" y2="265.1" stroke="#1e1e1e" stroke-width="1.05"/>
<line x1="301.4" y1="254.2" x2="320.9" y2="254.2" stroke="#1a1a1a" stroke-width="1.3"/>
<circle cx="311.2" cy="213.5" r="2.8" fill="#b90a36" stroke="#1b1b1b" stroke-width="1.1"/>
<circle cx="311.2" cy="234.4" r="2.8" fill="#b90a36" stroke="#1b1b1b" stroke-width="1.1"/>
<circle cx="306.2" cy="258.1" r="2.8" fill="#b90a36" stroke="#1b1b1b" stroke-width="1.1"/>
<circle cx="316" cy="258.7" r="2.8" fill="#b90a36" stroke="#1b1b1b" stroke-width="1.1"/>
<circle cx="311.2" cy="271.2" r="2.8" fill="#b90a36" stroke="#1b1b1b" stroke-width="1.1"/>
<circle cx="311.2" cy="288.7" r="2.8" fill="#b90a36" stroke="#1b1b1b" stroke-width="1.1"/>
<line x1="339.5" y1="288.7" x2="339.5" y2="301.8" stroke="#1e1e1e" stroke-width="1.05"/>
<line x1="334.95" y1="288.7" x2="344.45" y2="288.7" stroke="#1e1e1e" stroke-width="1.05"/>
<line x1="334.95" y1="301.8" x2="344.45" y2="301.8" stroke="#1e1e1e" stroke-width="1.05"/>
<line x1="329.9" y1="295.2" x2="349.4" y2="295.2" stroke="#222" stroke-width="1.3"/>
<circle cx="339.6" cy="274.3" r="2.8" fill="#345593" stroke="#1b1b1b" stroke-width="1.1"/>
<circle cx="334.9" cy="287.4" r="2.8" fill="#345593" stroke="#1b1b1b" stroke-width="1.1"/>
<circle cx="344.4" cy="292.4" r="2.8" fill="#345593" stroke="#1b1b1b" stroke-width="1.1"/>
<circle cx="334.9" cy="309.1" r="2.8" fill="#345593" stroke="#1b1b1b" stroke-width="1.1"/>
<circle cx="344.4" cy="312.4" r="2.8" fill="#345593" stroke="#1b1b1b" stroke-width="1.1"/>
<text class="t" x="419.2" y="198.4" font-size="10.6" text-anchor="start" font-weight="normal" fill="#222" textLength="45.5" lengthAdjust="spacingAndGlyphs">Max OCR</text>
<line x1="408.5" y1="204.0" x2="408.5" y2="321.1" stroke="#111" stroke-width="1.2"/>
<line x1="405.5" y1="320.5" x2="408.5" y2="320.5" stroke="#111" stroke-width="1.15"/>
<text x="402.3" y="323.3" font-size="9.6" text-anchor="end" font-weight="normal" fill="#222" textLength="4.6" lengthAdjust="spacingAndGlyphs">0</text>
<line x1="405.5" y1="297.77" x2="408.5" y2="297.77" stroke="#111" stroke-width="1.15"/>
<text x="402.3" y="300.57" font-size="9.6" text-anchor="end" font-weight="normal" fill="#222" textLength="4.6" lengthAdjust="spacingAndGlyphs">1</text>
<line x1="405.5" y1="275.04" x2="408.5" y2="275.04" stroke="#111" stroke-width="1.15"/>
<text x="402.3" y="277.84000000000003" font-size="9.6" text-anchor="end" font-weight="normal" fill="#222" textLength="4.6" lengthAdjust="spacingAndGlyphs">2</text>
<line x1="405.5" y1="252.31" x2="408.5" y2="252.31" stroke="#111" stroke-width="1.15"/>
<text x="402.3" y="255.11" font-size="9.6" text-anchor="end" font-weight="normal" fill="#222" textLength="4.6" lengthAdjust="spacingAndGlyphs">3</text>
<line x1="405.5" y1="229.57999999999998" x2="408.5" y2="229.57999999999998" stroke="#111" stroke-width="1.15"/>
<text x="402.3" y="232.38" font-size="9.6" text-anchor="end" font-weight="normal" fill="#222" textLength="4.6" lengthAdjust="spacingAndGlyphs">4</text>
<line x1="405.5" y1="206.85" x2="408.5" y2="206.85" stroke="#111" stroke-width="1.15"/>
<text x="402.3" y="209.65" font-size="9.6" text-anchor="end" font-weight="normal" fill="#222" textLength="4.6" lengthAdjust="spacingAndGlyphs">5</text>
<line x1="407.9" y1="320.5" x2="475.0" y2="320.5" stroke="#111" stroke-width="1.2"/>
<line x1="427.0" y1="320.5" x2="427.0" y2="323.5" stroke="#111" stroke-width="1.15"/>
<line x1="456.9" y1="320.5" x2="456.9" y2="323.5" stroke="#111" stroke-width="1.15"/>
<text x="427.6" y="334.2" font-size="9.1" text-anchor="middle" font-weight="normal" fill="#222" textLength="16.4" lengthAdjust="spacingAndGlyphs">BSA</text>
<text x="455.8" y="334.2" font-size="9.1" text-anchor="middle" font-weight="normal" fill="#222" textLength="10.3" lengthAdjust="spacingAndGlyphs">PA</text>
<text class="r" transform="translate(379.3,261.6) rotate(-90)" x="0" y="0" font-size="10.3" text-anchor="middle" fill="#222" textLength="26.5" lengthAdjust="spacingAndGlyphs">FC OCR</text>
<text class="r" transform="translate(390.7,261.5) rotate(-90)" x="0" y="0" font-size="10.0" text-anchor="middle" fill="#222" textLength="50.0" lengthAdjust="spacingAndGlyphs">(vs BSA IL-15)</text>
<line x1="427.5" y1="216.2" x2="455.7" y2="216.2" stroke="#1e1e1e" stroke-width="1.3"/>
<polygon points="439.85,210.60 440.30,211.68 441.47,211.77 440.58,212.54 440.85,213.68 439.85,213.06 438.85,213.68 439.12,212.54 438.23,211.77 439.40,211.68" fill="#222"/>
<polygon points="443.55,210.60 444.00,211.68 445.17,211.77 444.28,212.54 444.55,213.68 443.55,213.06 442.55,213.68 442.82,212.54 441.93,211.77 443.10,211.68" fill="#222"/>
<line x1="427.5" y1="256.7" x2="427.5" y2="276.4" stroke="#1e1e1e" stroke-width="1.05"/>
<line x1="422.25" y1="256.7" x2="431.75" y2="256.7" stroke="#1e1e1e" stroke-width="1.05"/>
<line x1="422.25" y1="276.4" x2="431.75" y2="276.4" stroke="#1e1e1e" stroke-width="1.05"/>
<line x1="417.0" y1="266.9" x2="436.8" y2="266.9" stroke="#1a1a1a" stroke-width="1.3"/>
<circle cx="427.2" cy="223.5" r="2.8" fill="#b90a36" stroke="#1b1b1b" stroke-width="1.1"/>
<circle cx="427" cy="260.3" r="2.8" fill="#b90a36" stroke="#1b1b1b" stroke-width="1.1"/>
<circle cx="421.2" cy="270.6" r="2.8" fill="#b90a36" stroke="#1b1b1b" stroke-width="1.1"/>
<circle cx="427.6" cy="270.6" r="2.8" fill="#b90a36" stroke="#1b1b1b" stroke-width="1.1"/>
<circle cx="433.2" cy="279" r="2.8" fill="#b90a36" stroke="#1b1b1b" stroke-width="1.1"/>
<circle cx="427" cy="296.5" r="2.8" fill="#b90a36" stroke="#1b1b1b" stroke-width="1.1"/>
<line x1="456.5" y1="297.1" x2="456.5" y2="307.0" stroke="#1e1e1e" stroke-width="1.05"/>
<line x1="451.25" y1="297.1" x2="460.75" y2="297.1" stroke="#1e1e1e" stroke-width="1.05"/>
<line x1="451.25" y1="307.0" x2="460.75" y2="307.0" stroke="#1e1e1e" stroke-width="1.05"/>
<line x1="446.3" y1="302.3" x2="465.8" y2="302.3" stroke="#1a1a1a" stroke-width="1.3"/>
<circle cx="449.4" cy="292.6" r="2.8" fill="#345593" stroke="#1b1b1b" stroke-width="1.1"/>
<circle cx="455.9" cy="289.2" r="2.8" fill="#345593" stroke="#1b1b1b" stroke-width="1.1"/>
<circle cx="455.8" cy="296.6" r="2.8" fill="#345593" stroke="#1b1b1b" stroke-width="1.1"/>
<circle cx="462.1" cy="299.2" r="2.8" fill="#345593" stroke="#1b1b1b" stroke-width="1.1"/>
<circle cx="452.9" cy="313.7" r="2.8" fill="#345593" stroke="#1b1b1b" stroke-width="1.1"/>
<circle cx="459.0" cy="320.6" r="2.8" fill="#345593" stroke="#1b1b1b" stroke-width="1.1"/>
</svg>
</body></html>
